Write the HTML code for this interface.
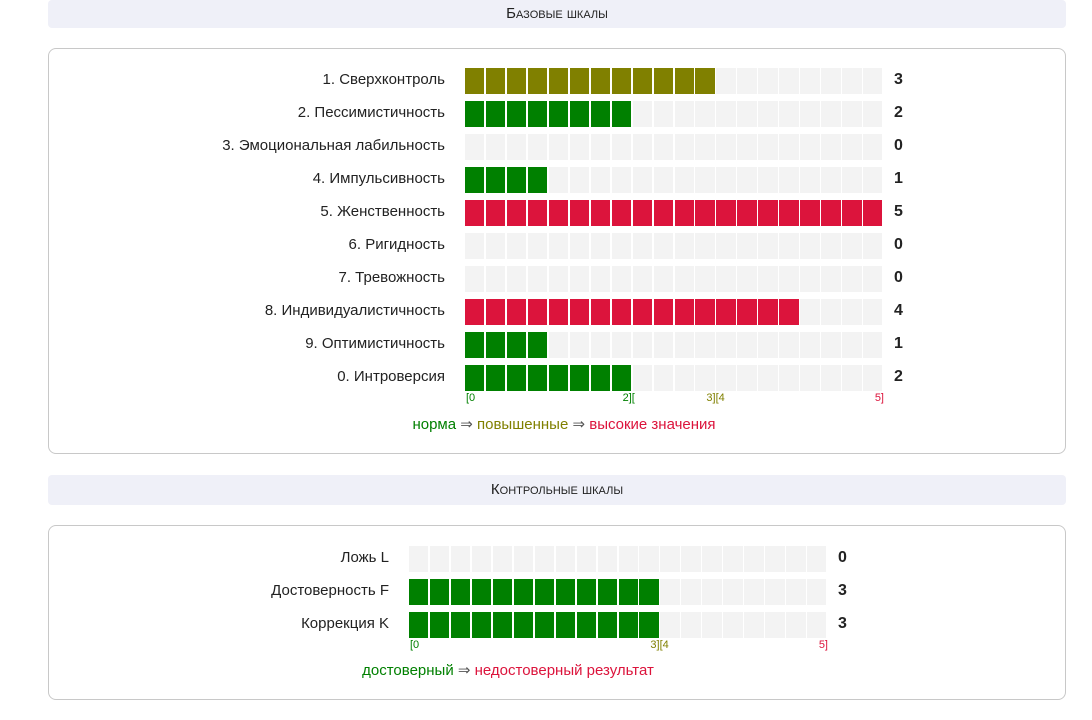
<!DOCTYPE html>
<html><head><meta charset="utf-8"><style>
body{margin:0;width:1092px;height:720px;background:#fff;font-family:"Liberation Sans",sans-serif;position:relative;overflow:hidden}
.hdr{position:absolute;left:48px;width:1018px;height:28px;background:#eff0f8;border-radius:4px;text-align:center;line-height:28px;font-size:15px;font-variant:small-caps;color:#222}
.panel{position:absolute;left:48px;width:1016px;border:1px solid #c8c8c8;border-radius:8px}
.lbl{position:absolute;font-size:15px;color:#222;text-align:right}
.val{position:absolute;font-size:16px;font-weight:bold;color:#222}
.cell{position:absolute;height:26px}
.tick{position:absolute;font-size:11px}
.leg{position:absolute;font-size:15px;text-align:center}
</style></head><body>
<div class="hdr" style="top:0">Базовые шкалы</div>
<div class="panel" style="top:48px;height:404px"></div>
<div class="hdr" style="top:475px;height:30px;line-height:30px">Контрольные шкалы</div>
<div class="panel" style="top:525px;height:173px"></div>
<div id="charts"></div>
<div class="leg" style="left:300px;width:528px;top:415px"><span style="color:#008000">норма</span> <span style="color:#555">⇒</span> <span style="color:#808000">повышенные</span> <span style="color:#555">⇒</span> <span style="color:#dc143c">высокие значения</span></div>
<div class="leg" style="left:300px;width:416px;top:661px"><span style="color:#008000">достоверный</span> <span style="color:#555">⇒</span> <span style="color:#dc143c">недостоверный результат</span></div>
<script>
const baseLabels=["1. Сверхконтроль","2. Пессимистичность","3. Эмоциональная лабильность","4. Импульсивность","5. Женственность","6. Ригидность","7. Тревожность","8. Индивидуалистичность","9. Оптимистичность","0. Интроверсия"];
const baseValues=[3,2,0,1,5,0,0,4,1,2];
const baseTicks=[{t:"[0",v:0,c:"#008000"},{t:"2][",v:2,c:"#008000"},{t:"3][4",v:3,c:"#808000"},{t:"5]",v:5,c:"#dc143c"}];
const ctrlLabels=["Ложь L","Достоверность F","Коррекция K"];
const ctrlValues=[0,3,3];
const ctrlTicks=[{t:"[0",v:0,c:"#008000"},{t:"3][4",v:3,c:"#808000"},{t:"5]",v:5,c:"#dc143c"}];
const root=document.getElementById('charts');
function add(cls,style,text){const d=document.createElement('div');d.className=cls;d.style.cssText=style;if(text!==undefined)d.textContent=text;root.appendChild(d);return d;}
function draw(labels,values,ticks,x0,y0,labelRight,colorFn,prefix){
  const W=419,cells=20,cw=W/cells,step=33,max=5;
  const xs=v=>x0+v/max*W;
  labels.forEach((l,i)=>{
    const y=y0+i*step;
    const lb=add('lbl',`left:${labelRight-400}px;width:400px;top:${y+3}px`,l);
    
    
    const n=Math.round(values[i]*cells/max);
    for(let k=0;k<cells;k++){
      const c=add('cell',`left:${x0+k*cw}px;top:${y}px;width:${cw-1.5}px;background:${k<n?colorFn(values[i]):'#f3f3f3'}`);
      
      
    }
    const v=add('val',`left:${x0+W+10}px;top:${y+3}px`,values[i]);
    
    
  });
  const ty=y0+labels.length*step-6;
  ticks.forEach((t,j)=>{
    let x=xs(t.v);
    const d=add('tick',`top:${ty}px;color:${t.c}`,t.t);
    if(j===0)d.style.left=(x+1)+'px';
    else if(j===ticks.length-1){d.style.left=(x-30)+'px';d.style.width='30px';d.style.textAlign='right';}
    else{const br=t.t.indexOf(']');d.style.left=(x-7*br-3)+'px';}
    
    
  });
}
draw(baseLabels,baseValues,baseTicks,465,68,445,v=>v>=4?'#dc143c':v>=3?'#808000':'#008000','base');
draw(ctrlLabels,ctrlValues,ctrlTicks,409,546,389,v=>v>=4?'#dc143c':'#008000','control');
</script>
</body></html>
